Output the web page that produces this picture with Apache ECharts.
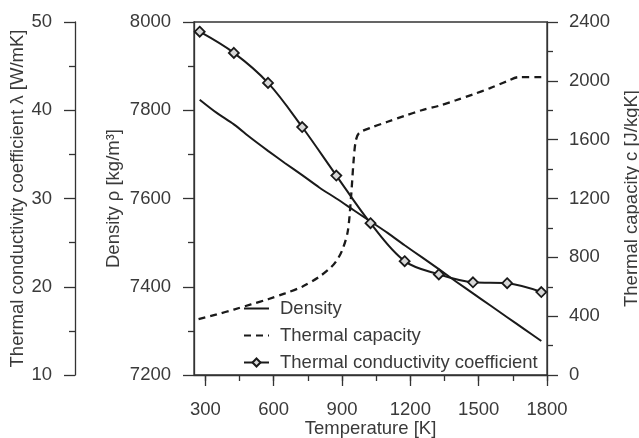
<!DOCTYPE html>
<html>
<head>
<meta charset="utf-8">
<script src="https://cdn.jsdelivr.net/npm/echarts@6/dist/echarts.min.js"></script>
<style>
html,body{margin:0;padding:0;background:#fff;}
#chart{width:639px;height:438px;}
</style>
</head>
<body>
<div id="chart"></div>
<script>
// X axis (Temperature [K])
const xMajorTicks = [300, 600, 900, 1200, 1500, 1800];
const xMinorTicks = [300, 450, 600, 750, 900, 1050, 1200, 1350, 1500, 1650, 1800];

// Density [kg/m3]
const densityT = [275, 350, 425, 500, 575, 650, 725, 800, 875, 950, 1025, 1100, 1175, 1250, 1325, 1400, 1475, 1550, 1625, 1700, 1775];
const densityV = [7824, 7794, 7768, 7737, 7708, 7680, 7653, 7625, 7600, 7574, 7548, 7522, 7494, 7467, 7440, 7412, 7385, 7358, 7331, 7304, 7277];

// Thermal capacity [J/kgK]
const capacityT = [270, 350, 425, 500, 575, 650, 725, 800, 850, 875, 900, 925, 940, 950, 960, 975, 1025, 1100, 1175, 1250, 1325, 1400, 1475, 1550, 1625, 1675, 1775];
const capacityV = [380, 412, 445, 480, 515, 555, 600, 668, 730, 775, 845, 975, 1220, 1440, 1590, 1645, 1680, 1722, 1762, 1800, 1830, 1868, 1908, 1950, 1998, 2025, 2025];

// Thermal conductivity coefficient [W/mK]
const conductT = [275, 425, 575, 725, 875, 1025, 1175, 1325, 1475, 1625, 1775];
const conductV = [48.9, 46.5, 43.1, 38.1, 32.6, 27.2, 22.9, 21.4, 20.5, 20.4, 19.4];

const pair = (xs, ys) => xs.map((x, i) => [x, ys[i]]);

const FONT = "'Liberation Sans', Arial, sans-serif";
const FS = 18.5;
const TXT = '#3a3a3a';
const AX = '#333';
const plain = v => String(v);

const chart = echarts.init(document.getElementById('chart'), null, {renderer: 'canvas'});
chart.setOption({
  animation: false,
  textStyle: {fontFamily: FONT},
  grid: {left: 194, right: 92, top: 22, bottom: 63, outerBoundsMode: 'none', containLabel: false,
         show: true, borderColor: AX, borderWidth: 1.3, backgroundColor: 'transparent'},
  legend: {
    orient: 'vertical', left: 243, top: 299, padding: 0,
    itemWidth: 25, itemHeight: 10, itemGap: 8,
    textStyle: {fontFamily: FONT, fontSize: FS, color: TXT, lineHeight: 18, padding: [0, 0, 0, 6]},
    data: [
      {name: 'Density', itemStyle: {opacity: 0}},
      {name: 'Thermal capacity', itemStyle: {opacity: 0}},
      {name: 'Thermal conductivity coefficient'}
    ]
  },
  xAxis: [
    {
      type: 'value', min: 250, max: 1800, position: 'bottom',
      name: 'Temperature [K]', nameLocation: 'middle', nameGap: 44, nameMoveOverlap: false,
      nameTextStyle: {fontFamily: FONT, fontSize: FS, color: TXT},
      axisLine: {show: true, lineStyle: {color: AX, width: 1.3}},
      axisTick: {show: true, inside: false, length: 11, lineStyle: {color: AX, width: 1.3}, customValues: xMajorTicks},
      axisLabel: {show: true, margin: 25, fontFamily: FONT, fontSize: FS, color: TXT, customValues: xMajorTicks, formatter: plain},
      splitLine: {show: false}
    },
    {
      type: 'value', min: 250, max: 1800, position: 'bottom',
      axisLine: {show: false},
      axisTick: {show: true, inside: false, length: 6, lineStyle: {color: AX, width: 1.3}, customValues: xMinorTicks},
      axisLabel: {show: false, customValues: xMinorTicks},
      splitLine: {show: false}
    }
  ],
  yAxis: [
    {
      type: 'value', min: 7200, max: 8000, interval: 200, position: 'left',
      name: 'Density ρ [kg/m³]', nameLocation: 'middle', nameRotate: 90, nameGap: 71, nameMoveOverlap: false,
      nameTextStyle: {fontFamily: FONT, fontSize: FS, color: TXT},
      axisLine: {show: true, lineStyle: {color: AX, width: 1.3}},
      axisTick: {show: true, length: 11, lineStyle: {color: AX, width: 1.3}},
      minorTick: {show: true, splitNumber: 2, length: 6, lineStyle: {color: AX, width: 1.3}},
      axisLabel: {margin: 23, fontFamily: FONT, fontSize: FS, color: TXT, formatter: plain},
      splitLine: {show: false}
    },
    {
      type: 'value', min: 0, max: 2400, interval: 400, position: 'right',
      name: 'Thermal capacity c [J/kgK]', nameLocation: 'middle', nameRotate: 90, nameGap: 75, nameMoveOverlap: false,
      nameTextStyle: {fontFamily: FONT, fontSize: FS, color: TXT},
      axisLine: {show: true, lineStyle: {color: AX, width: 1.3}},
      axisTick: {show: true, length: 11, lineStyle: {color: AX, width: 1.3}},
      minorTick: {show: true, splitNumber: 2, length: 6, lineStyle: {color: AX, width: 1.3}},
      axisLabel: {margin: 22, fontFamily: FONT, fontSize: FS, color: TXT, formatter: plain},
      splitLine: {show: false}
    },
    {
      type: 'value', min: 10, max: 50, interval: 10, position: 'left', offset: 119,
      name: 'Thermal conductivity coefficient λ [W/mK]', nameLocation: 'middle', nameRotate: 90, nameGap: 48, nameMoveOverlap: false,
      nameTextStyle: {fontFamily: FONT, fontSize: FS, color: TXT},
      axisLine: {show: true, lineStyle: {color: AX, width: 1.3}},
      axisTick: {show: true, length: 11, lineStyle: {color: AX, width: 1.3}},
      minorTick: {show: true, splitNumber: 2, length: 6, lineStyle: {color: AX, width: 1.3}},
      axisLabel: {margin: 23, fontFamily: FONT, fontSize: FS, color: TXT, formatter: plain},
      splitLine: {show: false}
    }
  ],
  series: [
    {
      name: 'Density', type: 'line', xAxisIndex: 0, yAxisIndex: 0,
      data: pair(densityT, densityV), smooth: 0.3, symbol: 'none',
      lineStyle: {color: '#1a1a1a', width: 2}, itemStyle: {color: '#1a1a1a'}
    },
    {
      name: 'Thermal capacity', type: 'line', xAxisIndex: 0, yAxisIndex: 1,
      data: pair(capacityT, capacityV), smooth: 0.3, symbol: 'none',
      lineStyle: {color: '#1a1a1a', width: 2.3, type: [7, 5]}, itemStyle: {color: '#1a1a1a'}
    },
    {
      name: 'Thermal conductivity coefficient', type: 'line', xAxisIndex: 0, yAxisIndex: 2,
      data: pair(conductT, conductV), smooth: 0.35,
      symbol: 'diamond', symbolSize: 10, showSymbol: true,
      lineStyle: {color: '#1a1a1a', width: 2},
      itemStyle: {color: '#d8d8d8', borderColor: '#1a1a1a', borderWidth: 1.8}
    }
  ]
});
</script>
</body>
</html>
